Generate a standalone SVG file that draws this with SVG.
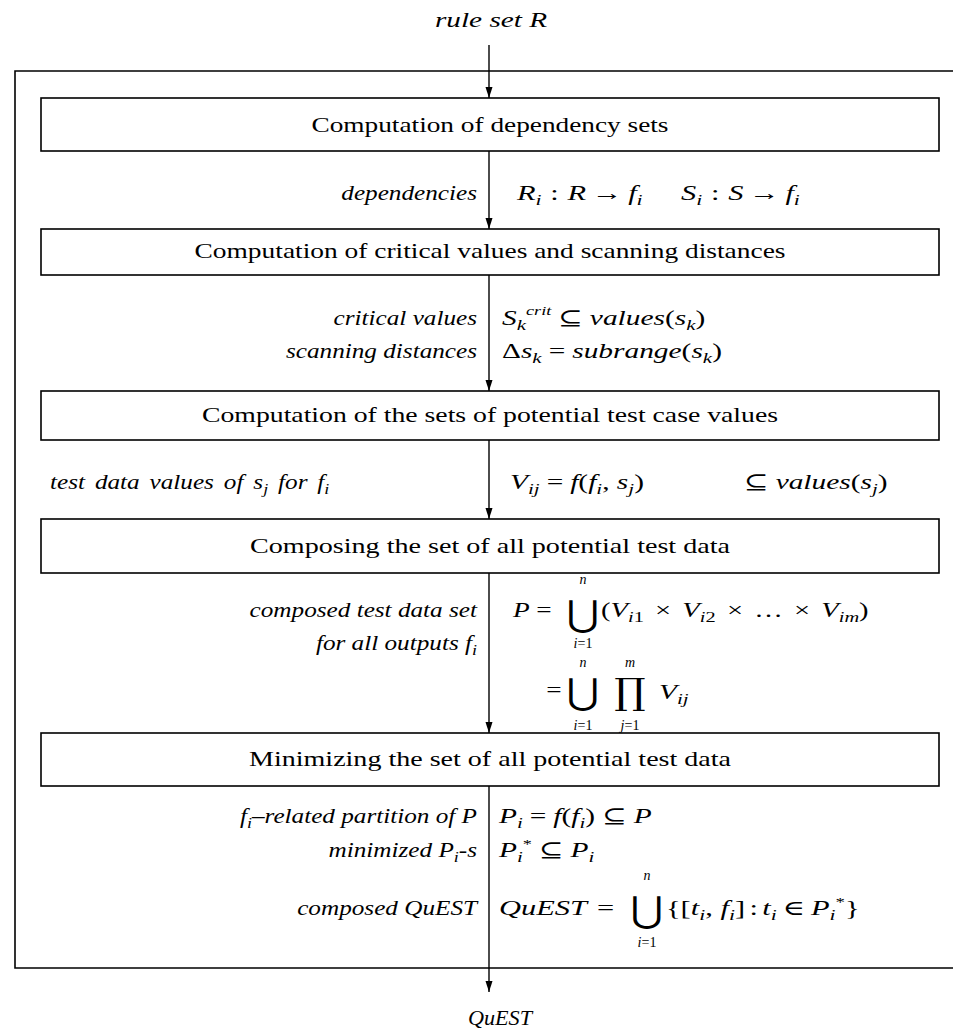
<svg xmlns="http://www.w3.org/2000/svg" width="953" height="1034" viewBox="0 0 953 1034">
<style>
.t{font-family:"Liberation Serif","DejaVu Serif",serif;font-size:21px;fill:#000}
.i{font-style:italic}
.s{font-size:15px}
.l{font-size:14px}
.st{font-size:13px}
.op{font-family:"DejaVu Serif","DejaVu Sans",serif;font-size:36px;fill:#000}
.box{fill:none;stroke:#000;stroke-width:1.6}
.ln{fill:none;stroke:#000;stroke-width:1.4}
</style>
<defs>
<marker id="ah" markerUnits="userSpaceOnUse" markerWidth="12" markerHeight="8" refX="11" refY="3.5" orient="auto">
<path d="M0,0 L11,3.5 L0,7 z" fill="#000"/>
</marker>
</defs>
<g id="frame"><path class="box" d="M953,71 H15 V968 H953"/></g>
<g id="input"><text class="t i" x="491" y="27" text-anchor="middle" textLength="112" lengthAdjust="spacingAndGlyphs">rule set R</text></g>
<g id="box1"><rect class="box" x="41" y="98" width="898" height="53"/>
<text class="t" x="490" y="132" text-anchor="middle" textLength="357" lengthAdjust="spacingAndGlyphs">Computation of dependency sets</text></g>
<g id="box2"><rect class="box" x="41" y="229" width="898" height="46"/>
<text class="t" x="490" y="258" text-anchor="middle" textLength="591" lengthAdjust="spacingAndGlyphs">Computation of critical values and scanning distances</text></g>
<g id="box3"><rect class="box" x="41" y="391" width="898" height="49"/>
<text class="t" x="490" y="422" text-anchor="middle" textLength="576" lengthAdjust="spacingAndGlyphs">Computation of the sets of potential test case values</text></g>
<g id="box4"><rect class="box" x="41" y="519" width="898" height="54"/>
<text class="t" x="490" y="553" text-anchor="middle" textLength="480" lengthAdjust="spacingAndGlyphs">Composing the set of all potential test data</text></g>
<g id="box5"><rect class="box" x="41" y="733" width="898" height="53"/>
<text class="t" x="490" y="766" text-anchor="middle" textLength="482" lengthAdjust="spacingAndGlyphs">Minimizing the set of all potential test data</text></g>
<g id="connectors">
<line class="ln" x1="489" y1="45" x2="489" y2="98" marker-end="url(#ah)"/>
<line class="ln" x1="489" y1="151" x2="489" y2="229" marker-end="url(#ah)"/>
<line class="ln" x1="489" y1="275" x2="489" y2="391" marker-end="url(#ah)"/>
<line class="ln" x1="489" y1="440" x2="489" y2="519" marker-end="url(#ah)"/>
<line class="ln" x1="489" y1="573" x2="489" y2="733" marker-end="url(#ah)"/>
<line class="ln" x1="489" y1="786" x2="489" y2="992" marker-end="url(#ah)"/>
</g>
<g id="labels">
<text class="t i" transform="translate(477,200) scale(1.2,1)" text-anchor="end">dependencies</text>
<text class="t i" transform="translate(477,325) scale(1.2,1)" text-anchor="end">critical values</text>
<text class="t i" transform="translate(477,358) scale(1.2,1)" text-anchor="end">scanning distances</text>
<text class="t i" transform="translate(50,489) scale(1.2,1)" word-spacing="3">test data values of s<tspan class="s" dy="5">j</tspan><tspan dy="-5"> for f</tspan><tspan class="s" dy="5">i</tspan></text>
<text class="t i" transform="translate(477,617) scale(1.2,1)" text-anchor="end">composed test data set</text>
<text class="t i" transform="translate(477,650) scale(1.2,1)" text-anchor="end">for all outputs f<tspan class="s" dy="5">i</tspan></text>
<text class="t i" transform="translate(477,823) scale(1.2,1)" text-anchor="end">f<tspan class="s" dy="5">i</tspan><tspan dy="-5">–related partition of P</tspan></text>
<text class="t i" transform="translate(477,857) scale(1.2,1)" text-anchor="end">minimized P<tspan class="s" dy="5">i</tspan><tspan dy="-5">-s</tspan></text>
<text class="t i" transform="translate(477,915) scale(1.2,1)" text-anchor="end">composed QuEST</text>
</g>
<g id="formulas">
<text class="t" transform="translate(517,200) scale(1.45,1)"><tspan class="i">R</tspan><tspan class="s i" dy="5">i</tspan><tspan dy="-5" dx="6">:</tspan><tspan class="i" dx="6">R</tspan><tspan dx="4">→</tspan><tspan class="i" dx="4">f</tspan><tspan class="s i" dy="5">i</tspan></text>
<text class="t" transform="translate(681,200) scale(1.45,1)"><tspan class="i">S</tspan><tspan class="s i" dy="5">i</tspan><tspan dy="-5" dx="6">:</tspan><tspan class="i" dx="6">S</tspan><tspan dx="4">→</tspan><tspan class="i" dx="4">f</tspan><tspan class="s i" dy="5">i</tspan></text>
<text class="t" transform="translate(502,325) scale(1.4,1)"><tspan class="i">S</tspan><tspan class="s i" dy="5">k</tspan><tspan class="st i" dy="-15">crit</tspan><tspan dy="10" dx="5">⊆</tspan><tspan class="i" dx="5">values</tspan>(<tspan class="i">s</tspan><tspan class="s i" dy="5">k</tspan><tspan dy="-5">)</tspan></text>
<text class="t" transform="translate(502,358) scale(1.4,1)">Δ<tspan class="i">s</tspan><tspan class="s i" dy="5">k</tspan><tspan dy="-5" dx="5">=</tspan><tspan class="i" dx="5">subrange</tspan>(<tspan class="i">s</tspan><tspan class="s i" dy="5">k</tspan><tspan dy="-5">)</tspan></text>
<text class="t" transform="translate(510,489) scale(1.4,1)"><tspan class="i">V</tspan><tspan class="s i" dy="5">ij</tspan><tspan dy="-5" dx="5">=</tspan><tspan class="i" dx="5">f</tspan>(<tspan class="i">f</tspan><tspan class="s i" dy="5">i</tspan><tspan dy="-5">, </tspan><tspan class="i">s</tspan><tspan class="s i" dy="5">j</tspan><tspan dy="-5">)</tspan></text>
<text class="t" transform="translate(744,489) scale(1.4,1)">⊆<tspan class="i" dx="5">values</tspan>(<tspan class="i">s</tspan><tspan class="s i" dy="5">j</tspan><tspan dy="-5">)</tspan></text>
<text class="t" transform="translate(513,617) scale(1.3,1)"><tspan class="i">P</tspan><tspan dx="5">=</tspan></text>
<text class="op" transform="translate(583,626) scale(1.1,1)" text-anchor="middle">⋃</text>
<text class="t i l" x="583" y="584" text-anchor="middle">n</text>
<text class="t l" x="583" y="648" text-anchor="middle"><tspan class="i">i</tspan>=1</text>
<text class="t" transform="translate(601,617) scale(1.36,1)" word-spacing="3">(<tspan class="i">V</tspan><tspan class="s i" dy="5">i</tspan><tspan class="s">1</tspan><tspan dy="-5"> × </tspan><tspan class="i">V</tspan><tspan class="s i" dy="5">i</tspan><tspan class="s">2</tspan><tspan dy="-5"> × … × </tspan><tspan class="i">V</tspan><tspan class="s i" dy="5">im</tspan><tspan dy="-5">)</tspan></text>
<text class="t" transform="translate(554,697) scale(1.3,1)" text-anchor="middle">=</text>
<text class="op" transform="translate(583,704) scale(1.1,1)" text-anchor="middle">⋃</text>
<text class="op" transform="translate(630,704) scale(1.1,1)" text-anchor="middle">∏</text>
<text class="t i l" x="583" y="667" text-anchor="middle">n</text>
<text class="t i l" x="630" y="667" text-anchor="middle">m</text>
<text class="t l" x="583" y="730" text-anchor="middle"><tspan class="i">i</tspan>=1</text>
<text class="t l" x="630" y="730" text-anchor="middle"><tspan class="i">j</tspan>=1</text>
<text class="t" transform="translate(659,699) scale(1.4,1)"><tspan class="i">V</tspan><tspan class="s i" dy="5">ij</tspan></text>
<text class="t" transform="translate(499,823) scale(1.4,1)"><tspan class="i">P</tspan><tspan class="s i" dy="5">i</tspan><tspan dy="-5" dx="5">=</tspan><tspan class="i" dx="5">f</tspan>(<tspan class="i">f</tspan><tspan class="s i" dy="5">i</tspan><tspan dy="-5">)</tspan><tspan dx="5">⊆</tspan><tspan class="i" dx="5">P</tspan></text>
<text class="t" transform="translate(499,857) scale(1.4,1)"><tspan class="i">P</tspan><tspan class="s i" dy="5">i</tspan><tspan class="st" dy="-14">*</tspan><tspan dy="9" dx="5">⊆</tspan><tspan class="i" dx="5">P</tspan><tspan class="s i" dy="5">i</tspan></text>
<text class="t" transform="translate(499,915) scale(1.45,1)"><tspan class="i">QuEST</tspan><tspan dx="7">=</tspan></text>
<text class="op" transform="translate(647,922) scale(1.1,1)" text-anchor="middle">⋃</text>
<text class="t i l" x="647" y="880" text-anchor="middle">n</text>
<text class="t l" x="647" y="947" text-anchor="middle"><tspan class="i">i</tspan>=1</text>
<text class="t" transform="translate(666,915) scale(1.45,1)">{[<tspan class="i">t</tspan><tspan class="s i" dy="5">i</tspan><tspan dy="-5">, </tspan><tspan class="i">f</tspan><tspan class="s i" dy="5">i</tspan><tspan dy="-5">]</tspan><tspan dx="3">:</tspan><tspan class="i" dx="3">t</tspan><tspan class="s i" dy="5">i</tspan><tspan dy="-5" dx="4">∈</tspan><tspan class="i" dx="4">P</tspan><tspan class="s i" dy="5">i</tspan><tspan class="st" dy="-14">*</tspan><tspan dy="9">}</tspan></text>
</g>
<g id="output"><text class="t i" x="500" y="1025" text-anchor="middle" textLength="64" lengthAdjust="spacingAndGlyphs">QuEST</text></g>
</svg>
